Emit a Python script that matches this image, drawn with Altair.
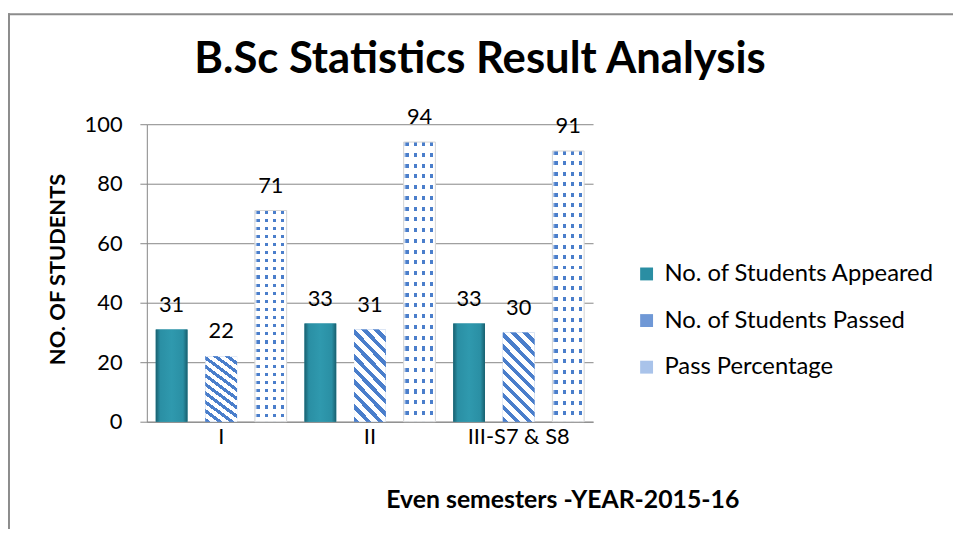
import altair as alt
import pandas as pd

categories = ["I", "II", "III-S7 & S8"]
series = ["No. of Students Appeared", "No. of Students Passed", "Pass Percentage"]
appeared = [31, 33, 33]
passed = [22, 31, 30]
pass_pct = [71, 94, 91]

rows = []
for i, c in enumerate(categories):
    rows.append({"cat": c, "series": series[0], "value": appeared[i]})
    rows.append({"cat": c, "series": series[1], "value": passed[i]})
    rows.append({"cat": c, "series": series[2], "value": pass_pct[i]})
df = pd.DataFrame(rows)

FONT = "Lato"
GRID = "#868686"
BLUE = "#4a7ecb"


def hard_stops(n, frac, c_on, c_off, start=0.0):
    stops = []
    for i in range(n):
        a = start + i / n
        b = a + frac / n
        e = start + (i + 1) / n
        stops += [
            {"offset": max(0, min(1, a)), "color": c_on},
            {"offset": max(0, min(1, b)), "color": c_on},
            {"offset": max(0, min(1, b)), "color": c_off},
            {"offset": max(0, min(1, e)), "color": c_off},
        ]
    return stops


appeared_grad = {
    "gradient": "linear", "x1": 0, "y1": 0, "x2": 1, "y2": 0,
    "stops": [
        {"offset": 0, "color": "#185f6e"},
        {"offset": 0.14, "color": "#2a8fa4"},
        {"offset": 0.5, "color": "#2f99ae"},
        {"offset": 0.86, "color": "#2a8fa4"},
        {"offset": 1, "color": "#185f6e"},
    ],
}
passed_grad = {
    "gradient": "linear", "x1": 0, "y1": 1, "x2": 0.43, "y2": -0.2,
    "stops": hard_stops(10, 0.45, BLUE, "#ffffff"),
}
dots_cols = {
    "gradient": "linear", "x1": 0, "y1": 0, "x2": 1, "y2": 0,
    "stops": [{"offset": 0, "color": "#ffffff"}] + hard_stops(4, 0.38, BLUE, "#ffffff", start=0.08)[:-1]
    + [{"offset": 1, "color": "#ffffff"}],
}
dots_rows = {
    "gradient": "linear", "x1": 0, "y1": 0, "x2": 0, "y2": 1,
    "stops": hard_stops(26, 0.38, "rgba(255,255,255,0)", "rgba(255,255,255,1)"),
}

x_enc = alt.X(
    "cat:N", sort=categories,
    scale=alt.Scale(paddingInner=0, paddingOuter=0),
    axis=alt.Axis(
        title="Even semesters -YEAR-2015-16", labelAngle=0, ticks=False,
        labelPadding=5, labelFont=FONT, labelFontSize=22, labelColor="#000000",
        domainColor=GRID, titleFont=FONT, titleFontSize=25, titleFontWeight="bold",
        titleColor="#000000", titleX=419, titleY=79, titleAlign="center",
        titleBaseline="middle", titleAnchor="middle",
    ),
)
xo_enc = alt.XOffset(
    "series:N", sort=series,
    scale=alt.Scale(domain=series, paddingInner=0.36, paddingOuter=0.18),
)
y_enc = alt.Y(
    "value:Q",
    scale=alt.Scale(domain=[0, 100], nice=False),
    axis=alt.Axis(
        title="NO. OF STUDENTS", values=[0, 20, 40, 60, 80, 100],
        tickSize=7, tickColor=GRID, labelPadding=18, labelFont=FONT,
        labelFontSize=22, labelColor="#000000", domainColor=GRID,
        gridColor=GRID, gridWidth=1, titleFont=FONT, titleFontSize=22,
        titleFontWeight="bold", titleColor="#000000", titleX=-90,
        titleY=146, titleAngle=270, titleAlign="center",
        titleBaseline="middle",
    ),
)

base = alt.Chart(df)

legend_layer = base.mark_bar().encode(
    x=x_enc, xOffset=xo_enc, y=y_enc,
    color=alt.Color(
        "series:N", sort=series,
        scale=alt.Scale(domain=series, range=["#2a8ea3", "#6f98d6", "#a9c3ea"]),
        legend=alt.Legend(
            title=None, orient="none", legendX=492, legendY=139,
            symbolType="square", symbolSize=169, symbolStrokeWidth=0,
            labelFont=FONT, labelFontSize=24, labelColor="#000000",
            labelLimit=400, rowPadding=23, labelOffset=6, padding=0,
        ),
    ),
)

appeared_layer = base.transform_filter(alt.datum.series == series[0]).mark_bar(
    fill=appeared_grad
).encode(x=x_enc, xOffset=xo_enc, y=y_enc)

passed_layer = base.transform_filter(alt.datum.series == series[1]).mark_bar(
    fill=passed_grad
).encode(x=x_enc, xOffset=xo_enc, y=y_enc)

pct_cols = base.transform_filter(alt.datum.series == series[2]).mark_bar(
    fill=dots_cols
).encode(x=x_enc, xOffset=xo_enc, y=y_enc)

pct_rows = base.transform_filter(alt.datum.series == series[2]).mark_bar(
    fill=dots_rows, stroke="#d4d4d4", strokeWidth=1
).encode(x=x_enc, xOffset=xo_enc, y=y_enc)

labels = base.mark_text(
    dy=-18, baseline="alphabetic", font=FONT, fontSize=22, color="#000000"
).encode(x=x_enc, xOffset=xo_enc, y=y_enc, text="value:Q")

border_df = pd.DataFrame({"k": [0]})
top_border = alt.Chart(border_df).mark_rule(color="#8c8c8c", strokeWidth=2).encode(
    x=alt.value(-140), x2=alt.value(820), y=alt.value(-111)
)
left_border = alt.Chart(border_df).mark_rule(color="#8c8c8c", strokeWidth=2).encode(
    x=alt.value(-139), y=alt.value(-112), y2=alt.value(420)
)

chart = alt.layer(
    legend_layer, appeared_layer, passed_layer, pct_cols, pct_rows, labels,
    top_border, left_border,
).properties(
    width=450, height=300,
    title=alt.TitleParams(
        "B.Sc Statistics Result Analysis", font=FONT, fontSize=44,
        fontWeight="bold", color="#000000", anchor="middle", dx=111,
        offset=-105, baseline="alphabetic", frame="group",
    ),
    padding={"left": 140, "top": 115, "right": 363, "bottom": 106},
    autosize="none",
).configure_view(stroke=None).configure_axisY(domainWidth=1)

chart.save("out.html", embed_options={"renderer": "svg", "actions": False})
